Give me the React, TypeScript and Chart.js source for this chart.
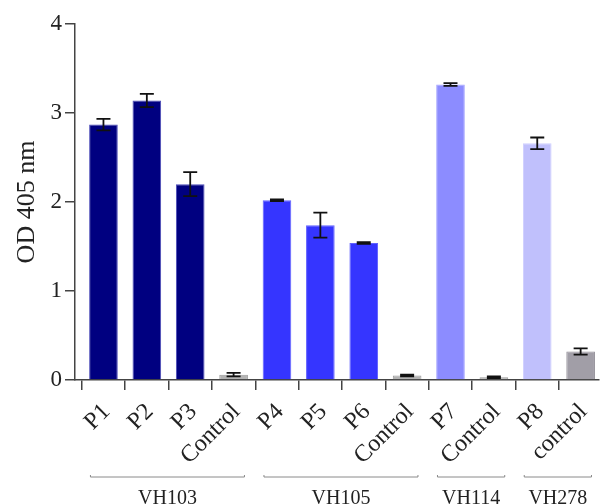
import React, { useEffect, useRef } from "react";
import { Chart, registerables } from "chart.js";

Chart.register(...registerables);

const categories = ["P1", "P2", "P3", "Control", "P4", "P5", "P6", "Control", "P7", "Control", "P8", "control"];
const means = [2.87, 3.14, 2.2, 0.06, 2.02, 1.74, 1.54, 0.05, 3.32, 0.03, 2.66, 0.32];
const errors = [0.065, 0.075, 0.135, 0.02, 0.01, 0.14, 0.01, 0.01, 0.015, 0.01, 0.065, 0.035];
const barColors = ["#000080", "#000080", "#000080", "#b4b4b4", "#3535ff", "#3535ff", "#3535ff", "#b4b4b4", "#8c8cff", "#b4b4b4", "#c0c0fc", "#a19ea7"];
const borderColors = ["#4a4ab8", "#4a4ab8", "#4a4ab8", "#9a9a9a", "#6060ff", "#6060ff", "#6060ff", "#9a9a9a", "#a4a4ff", "#9a9a9a", "#d0d0ff", "#8f8c95"];
const groupNames = ["VH103", "VH105", "VH114", "VH278"];
const groupStart = [0, 4, 8, 10];
const groupEnd = [3, 7, 9, 11];
const yTicks = [0, 1, 2, 3, 4];

const FONT = '"Liberation Serif", "Times New Roman", serif';

const extrasPlugin = {
  id: "extras",
  afterDatasetsDraw(chart: any) {
    const ctx = chart.ctx;
    const xs = chart.scales.x;
    const ys = chart.scales.y;
    const meta = chart.getDatasetMeta(0);
    ctx.save();
    // error bars
    ctx.strokeStyle = "#111";
    ctx.lineWidth = 1.8;
    meta.data.forEach((el: any, i: number) => {
      const x = el.x;
      const yT = ys.getPixelForValue(means[i] + errors[i]);
      const yB = ys.getPixelForValue(Math.max(0, means[i] - errors[i]));
      const cap = 7;
      ctx.beginPath();
      ctx.moveTo(x, yT);
      ctx.lineTo(x, yB);
      ctx.moveTo(x - cap, yT);
      ctx.lineTo(x + cap, yT);
      ctx.moveTo(x - cap, yB);
      ctx.lineTo(x + cap, yB);
      ctx.stroke();
    });
    // group brackets
    const lineY = 477;
    ctx.strokeStyle = "#8a8a8a";
    ctx.lineWidth = 1;
    ctx.fillStyle = "#222";
    ctx.font = `20px ${FONT}`;
    ctx.textAlign = "center";
    ctx.textBaseline = "top";
    groupNames.forEach((name, g) => {
      const x1 = xs.getPixelForValue(groupStart[g] - 0.3);
      const x2 = xs.getPixelForValue(groupEnd[g] + 0.25);
      ctx.beginPath();
      ctx.moveTo(x1, lineY - 2);
      ctx.lineTo(x1, lineY);
      ctx.lineTo(x2, lineY);
      ctx.lineTo(x2, lineY - 2);
      ctx.stroke();
      ctx.fillText(name, (x1 + x2) / 2, 489);
    });
    ctx.restore();
  },
};

export default function App() {
  const ref = useRef<HTMLCanvasElement | null>(null);
  useEffect(() => {
    if (!ref.current) return;
    const chart = new Chart(ref.current, {
      type: "bar",
      data: {
        datasets: [
          {
            data: means.map((v, i) => ({ x: i, y: v })),
            backgroundColor: barColors,
            borderColor: borderColors,
            borderWidth: 1,
            barPercentage: 0.66,
            categoryPercentage: 1,
          },
        ],
      },
      options: {
        animation: false,
        responsive: false,
        layout: { padding: { top: 24, left: 0, right: 0, bottom: 0 } },
        plugins: { legend: { display: false }, tooltip: { enabled: false } },
        scales: {
          x: {
            type: "linear",
            min: -0.656,
            max: 11.42,
            offset: false,
            afterBuildTicks: (s: any) => {
              s.ticks = categories.map((_, i) => ({ value: i }));
            },
            afterFit: (s: any) => {
              s.height = 124;
            },
            grid: { display: true, drawOnChartArea: false, drawTicks: true, tickLength: 10, color: "#444", lineWidth: 1.5 },
            border: { display: true, color: "#444", width: 1.5 },
            ticks: {
              autoSkip: false,
              maxRotation: 45,
              minRotation: 45,
              padding: 8,
              labelOffset: 3,
              color: "#222",
              font: { family: FONT, size: 24 },
              callback: (v: any) => categories[v] ?? "",
            },
          },
          y: {
            min: 0,
            max: 4,
            afterBuildTicks: (s: any) => {
              s.ticks = yTicks.map((v) => ({ value: v }));
            },
            afterFit: (s: any) => {
              s.width = 75;
            },
            grid: { display: true, drawOnChartArea: false, drawTicks: true, tickLength: 10, color: "#444", lineWidth: 1.5 },
            border: { display: true, color: "#444", width: 1.5 },
            ticks: { color: "#222", padding: 3, font: { family: FONT, size: 23 } },
            title: {
              display: true,
              text: "OD 405 nm",
              color: "#222",
              font: { family: FONT, size: 26 },
              padding: { top: 12, bottom: 0 },
            },
          },
        },
      },
      plugins: [extrasPlugin],
    } as any);
    return () => chart.destroy();
  }, []);
  return (
    <div style={{ position: "absolute", left: 0, top: 0, width: 609, height: 504, background: "#fff" }}>
      <canvas ref={ref} width={609} height={504} />
    </div>
  );
}
